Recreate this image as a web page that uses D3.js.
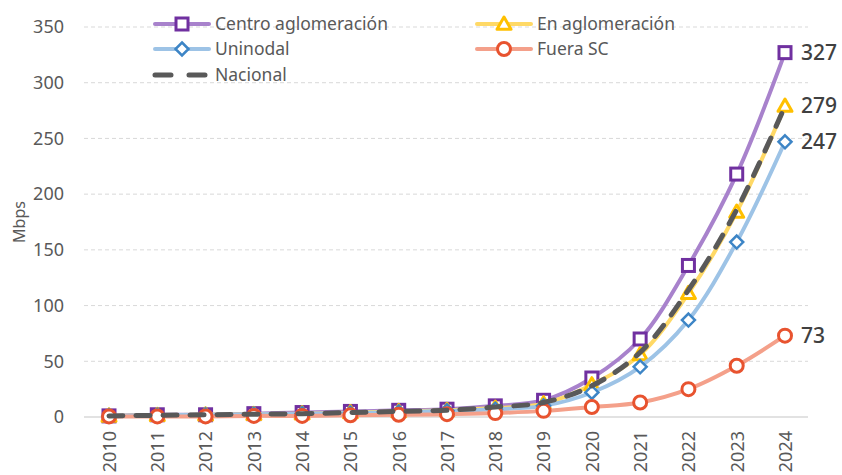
<!DOCTYPE html>
<html>
<head>
<meta charset="utf-8">
<script src="https://cdn.jsdelivr.net/npm/d3@7"></script>
<style>
  html, body { margin: 0; padding: 0; background: #fff; }
  svg { display: block; font-family: "Noto Sans", Lato, sans-serif; }
</style>
</head>
<body>
<svg id="chart" width="842" height="475"></svg>
<script>
// Velocidad media de banda ancha por tipo de localidad (Mbps)
const years = [2010, 2011, 2012, 2013, 2014, 2015, 2016, 2017, 2018, 2019, 2020, 2021, 2022, 2023, 2024];
const centro   = [1, 2, 2, 3, 4, 5, 6, 7, 10, 15, 35, 70, 136, 218, 327];
const enAglom  = [1, 1.5, 2, 2.5, 3, 4, 5, 6, 8, 12, 29, 56, 111, 184, 279];
const uninodal = [1, 1.5, 2, 2.5, 3, 3.5, 4.5, 5.5, 7, 10, 22, 45, 87, 157, 247];
const fueraSC  = [0.5, 0.5, 0.5, 1, 1, 1.5, 2, 2.5, 3.5, 5.5, 9, 13, 25, 46, 73];
const nacional = [1, 1.5, 2, 2.5, 3, 4, 5, 6, 9, 13, 28, 58, 114, 186, 279];
const yTicks = [0, 50, 100, 150, 200, 250, 300, 350];
const seriesNames = ["Centro aglomeración", "En aglomeración", "Uninodal", "Fuera SC", "Nacional"];
const endLabels = [327, 279, 247, 73];

const series = [
  { name: seriesNames[0], values: centro,   line: "#a882cc", mark: "#7030a0", shape: "square" },
  { name: seriesNames[1], values: enAglom,  line: "#ffd966", mark: "#ffc000", shape: "triangle" },
  { name: seriesNames[2], values: uninodal, line: "#9dc3e6", mark: "#3d85c6", shape: "diamond" },
  { name: seriesNames[3], values: fueraSC,  line: "#f4a08a", mark: "#e8532f", shape: "circle" },
  { name: seriesNames[4], values: nacional, line: "#595959", mark: null, shape: null, dashed: true }
];

const svg = d3.select("#chart");
const plotLeft = 84, plotRight = 808, plotTop = 27, plotBottom = 417;

const x = d3.scalePoint().domain(years).range([109, 785]);
const y = d3.scaleLinear().domain([0, 350]).range([plotBottom, plotTop]);

const textColor = "#595959";

// Gridlines
svg.append("g").selectAll("line").data(yTicks.filter(d => d > 0)).join("line")
  .attr("x1", plotLeft).attr("x2", plotRight)
  .attr("y1", d => y(d)).attr("y2", d => y(d))
  .attr("stroke", "#d9d9d9").attr("stroke-width", 1).attr("stroke-dasharray", "4 3");
svg.append("line").attr("x1", plotLeft).attr("x2", plotRight).attr("y1", y(0)).attr("y2", y(0))
  .attr("stroke", "#d9d9d9").attr("stroke-width", 1.5);

// Y axis
const yAxis = svg.append("g").attr("transform", `translate(${plotLeft},0)`)
  .call(d3.axisLeft(y).tickValues(yTicks).tickSize(0).tickPadding(20));
yAxis.select(".domain").remove();
yAxis.selectAll("text").attr("fill", textColor).style("font-size", "18px")
  .style("font-family", "'Noto Sans', Lato, sans-serif");

svg.append("text").attr("transform", `translate(25,${(plotTop + plotBottom) / 2}) rotate(-90)`)
  .attr("text-anchor", "middle").attr("fill", textColor).style("font-size", "16px").text("Mbps");

// X axis (rotated year labels)
const xAxis = svg.append("g").attr("transform", `translate(0,${plotBottom})`)
  .call(d3.axisBottom(x).tickSize(0).tickPadding(0));
xAxis.select(".domain").remove();
xAxis.selectAll("text")
  .attr("fill", textColor).style("font-size", "18px")
  .style("font-family", "'Noto Sans', Lato, sans-serif")
  .attr("text-anchor", "end")
  .attr("transform", "rotate(-90)")
  .attr("x", -14).attr("y", 0).attr("dy", "0.35em");

// Marker drawing
function drawMarker(g, shape, color, cx, cy, scale = 1) {
  const sw = 3;
  if (shape === "square") {
    const s = 12 * scale;
    g.append("rect").attr("x", cx - s / 2).attr("y", cy - s / 2).attr("width", s).attr("height", s)
      .attr("fill", "#fff").attr("stroke", color).attr("stroke-width", sw);
  } else if (shape === "circle") {
    g.append("circle").attr("cx", cx).attr("cy", cy).attr("r", 6.5 * scale)
      .attr("fill", "#fff").attr("stroke", color).attr("stroke-width", sw);
  } else if (shape === "diamond") {
    const s = 6.5 * scale;
    g.append("path").attr("d", `M${cx},${cy - s}L${cx + s},${cy}L${cx},${cy + s}L${cx - s},${cy}Z`)
      .attr("fill", "#fff").attr("stroke", color).attr("stroke-width", 2.5);
  } else if (shape === "triangle") {
    const s = 7 * scale;
    g.append("path").attr("d", `M${cx},${cy - s}L${cx + s},${cy + s * 0.75}L${cx - s},${cy + s * 0.75}Z`)
      .attr("fill", "#fff").attr("stroke", color).attr("stroke-width", 3).attr("stroke-linejoin", "round");
  }
}

const lineGen = d3.line()
  .x((d, i) => x(years[i]))
  .y(d => y(d))
  .curve(d3.curveCatmullRom.alpha(0.5));

// Lines and markers
series.forEach(s => {
  const g = svg.append("g");
  g.append("path").datum(s.values).attr("d", lineGen)
    .attr("fill", "none").attr("stroke", s.line)
    .attr("stroke-width", s.dashed ? 5 : 4)
    .attr("stroke-linecap", "round")
    .attr("stroke-dasharray", s.dashed ? "14 13" : null);
  if (s.shape) {
    s.values.forEach((v, i) => drawMarker(g, s.shape, s.mark, x(years[i]), y(v)));
  }
});

// End-of-series value labels
series.slice(0, 4).forEach((s, i) => {
  svg.append("text")
    .attr("x", x(years[years.length - 1]) + 16)
    .attr("y", y(s.values[s.values.length - 1]))
    .attr("dy", "0.35em")
    .attr("fill", "#404040").style("font-size", "21px").style("font-weight", "500")
    .text(endLabels[i]);
});

// Legend
const legendPos = [
  { x: 153, y: 24 }, { x: 475, y: 24 },
  { x: 153, y: 49 }, { x: 475, y: 49 },
  { x: 153, y: 75 }
];
series.forEach((s, i) => {
  const p = legendPos[i];
  const g = svg.append("g");
  g.append("line").attr("x1", p.x + 2).attr("x2", p.x + 56).attr("y1", p.y).attr("y2", p.y)
    .attr("stroke", s.line).attr("stroke-width", s.dashed ? 5 : 4).attr("stroke-linecap", "round")
    .attr("stroke-dasharray", s.dashed ? "16 18" : null);
  if (s.shape) drawMarker(g, s.shape, s.mark, p.x + 29, p.y);
  g.append("text").attr("x", p.x + 62).attr("y", p.y).attr("dy", "0.35em")
    .attr("fill", textColor).style("font-size", "17.5px").text(s.name);
});
</script>
</body>
</html>
